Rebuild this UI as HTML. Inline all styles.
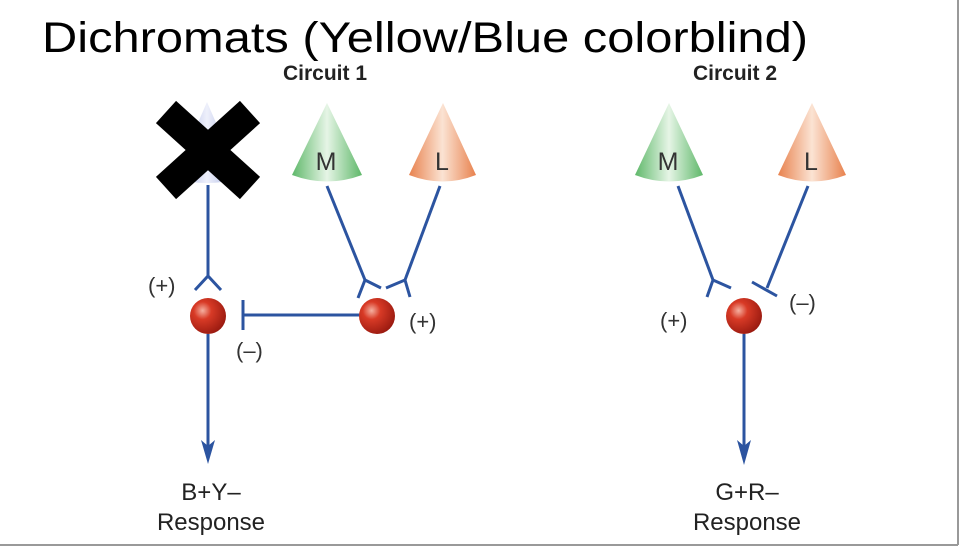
<!DOCTYPE html>
<html><head><meta charset="utf-8"><style>
html,body{margin:0;padding:0;background:#fff;}
svg{display:block;}
text{font-family:"Liberation Sans",sans-serif;}
</style></head><body>
<svg width="960" height="547" viewBox="0 0 960 547" xmlns="http://www.w3.org/2000/svg">
<defs>
<linearGradient id="g" x1="0" x2="1"><stop offset="0" stop-color="#5fb86a"/><stop offset="0.5" stop-color="#e6f5e6"/><stop offset="1" stop-color="#5fb86a"/></linearGradient>
<linearGradient id="o" x1="0" x2="1"><stop offset="0" stop-color="#e8824e"/><stop offset="0.5" stop-color="#fbe3d3"/><stop offset="1" stop-color="#e8824e"/></linearGradient>
<linearGradient id="b" x1="0" x2="1"><stop offset="0" stop-color="#9aa8dc"/><stop offset="0.5" stop-color="#eef0fb"/><stop offset="1" stop-color="#9aa8dc"/></linearGradient>
<radialGradient id="r" cx="0.35" cy="0.35" r="0.7"><stop offset="0" stop-color="#f5b0a0"/><stop offset="0.35" stop-color="#d83a26"/><stop offset="1" stop-color="#9a1a10"/></radialGradient>
</defs>
<line x1="958" y1="0" x2="958" y2="545" stroke="#999" stroke-width="2"/>
<line x1="0" y1="545" x2="958" y2="545" stroke="#999" stroke-width="2"/>
<text x="42" y="52" font-size="43" textLength="766" lengthAdjust="spacingAndGlyphs" fill="#000">Dichromats (Yellow/Blue colorblind)</text>
<text x="325" y="80" font-size="21" font-weight="bold" text-anchor="middle" fill="#222">Circuit 1</text>
<text x="735" y="80" font-size="21" font-weight="bold" text-anchor="middle" fill="#222">Circuit 2</text>
<path d="M207,102 L240,178 Q207,188 174,178 Z" fill="url(#b)"/>
<path d="M327,103 L362,175 Q327,188 292,175 Z" fill="url(#g)"/>
<path d="M443,103 L476,175 Q443,188 409,175 Z" fill="url(#o)"/>
<path d="M669,103 L703,175 Q669,188 635,175 Z" fill="url(#g)"/>
<path d="M812,103 L846,175 Q812,188 778,175 Z" fill="url(#o)"/>
<g font-size="25" fill="#333" text-anchor="middle">
<text x="326" y="170">M</text><text x="442" y="170">L</text>
<text x="668" y="170">M</text><text x="811" y="170">L</text>
</g>
<g stroke="#000" stroke-width="30" stroke-linecap="butt">
<line x1="166" y1="112" x2="250" y2="188"/>
<line x1="250" y1="112" x2="166" y2="188"/>
</g>
<g stroke="#2c54a0" stroke-width="3" fill="none">
<line x1="208" y1="185" x2="208" y2="276"/>
<path d="M195,290 L208,276 L221,290"/>
<line x1="208" y1="334" x2="208" y2="450"/>
<line x1="243" y1="300" x2="243" y2="330"/>
<line x1="243" y1="315" x2="362" y2="315"/>
<line x1="327" y1="186" x2="365" y2="280"/>
<path d="M358,298 L365,280 L381,288"/>
<line x1="440" y1="186" x2="405" y2="280"/>
<path d="M386,288 L405,280 L410,297"/>
<line x1="678" y1="186" x2="713" y2="280"/>
<path d="M707,297 L713,280 L731,288"/>
<line x1="808" y1="186" x2="767" y2="288"/>
<line x1="752" y1="282" x2="777" y2="296"/>
<line x1="744" y1="334" x2="744" y2="450"/>
</g>
<path d="M201,440 L208,464 L215,440 L208,446 Z" fill="#2c54a0"/>
<path d="M737,440 L744,465 L751,440 L744,446 Z" fill="#2c54a0"/>
<circle cx="208" cy="316" r="18" fill="url(#r)"/>
<circle cx="377" cy="316" r="18" fill="url(#r)"/>
<circle cx="744" cy="316" r="18" fill="url(#r)"/>
<g font-size="22" fill="#333">
<text x="148" y="293">(+)</text>
<text x="236" y="358">(–)</text>
<text x="409" y="329">(+)</text>
<text x="660" y="328">(+)</text>
<text x="789" y="310">(–)</text>
</g>
<g font-size="24" fill="#222" text-anchor="middle">
<text x="211" y="500">B+Y–</text><text x="211" y="530">Response</text>
<text x="747" y="500">G+R–</text><text x="747" y="530">Response</text>
</g>
</svg>
</body></html>
